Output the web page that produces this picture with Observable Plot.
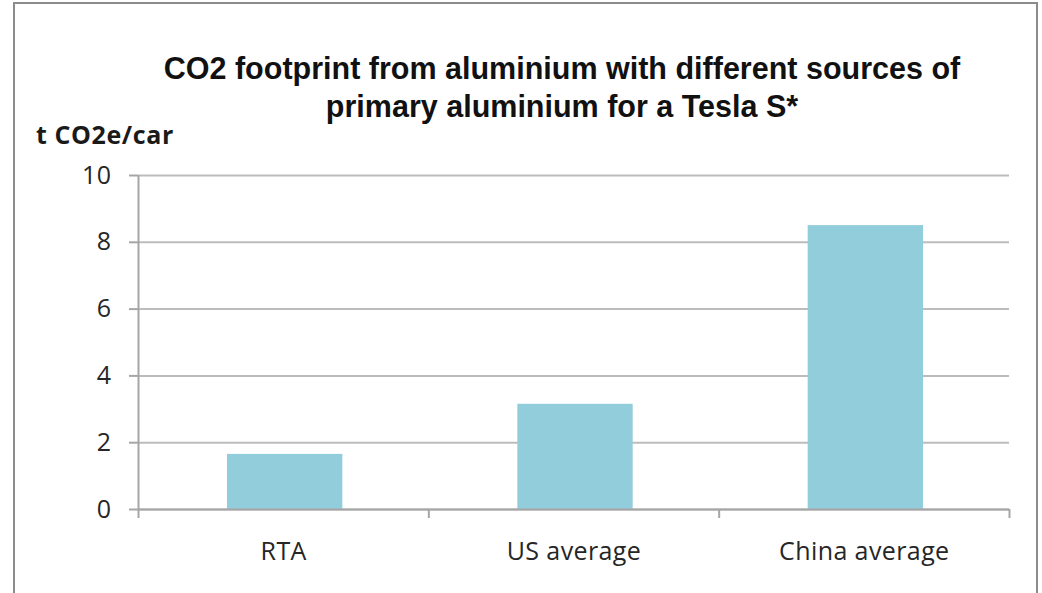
<!DOCTYPE html>
<html>
<head>
<meta charset="utf-8">
<script src="https://cdn.jsdelivr.net/npm/d3@7"></script>
<script src="https://cdn.jsdelivr.net/npm/@observablehq/plot@0.6"></script>
<style>
  html, body { margin: 0; padding: 0; background: #fff; overflow: hidden; }
  #wrap { position: relative; width: 1042px; height: 593px; }
  #frame { position: absolute; left: 13px; top: 2px; width: 1025px; height: 640px; border: 2px solid #8c8c8c; box-sizing: border-box; }
  #title { position: absolute; left: 60px; width: 1004px; top: 49px; text-align: center;
           font-family: "Liberation Sans", Arial, sans-serif; font-weight: bold; font-size: 30.5px; line-height: 38px; color: #111; }
  #ylabel { position: absolute; left: 36px; top: 117px; font-family: "Open Sans", Lato, sans-serif; font-weight: bold; font-size: 25px; letter-spacing: 0.6px; color: #1a1a1a; }
  #chart { position: absolute; left: 0; top: 0; }
  #chart svg text { letter-spacing: 0.4px; }
</style>
</head>
<body>
<div id="wrap">
  <div id="frame"></div>
  <div id="chart"></div>
  <div id="title">CO2 footprint from aluminium with different sources of<br>primary aluminium for a Tesla S*</div>
  <div id="ylabel">t CO2e/car</div>
</div>
<script>
const categories = ["RTA", "US average", "China average"];
const values = [1.65, 3.15, 8.5];
const yTicks = [0, 2, 4, 6, 8, 10];

const table = categories.map((c, i) => ({ i, category: c, value: values[i] }));
const boundaries = d3.range(categories.length + 1);
const centers = categories.map((c, i) => i + 0.5);

const plot = Plot.plot({
  width: 1042,
  height: 593,
  marginLeft: 138,
  marginRight: 33,
  marginTop: 175,
  marginBottom: 84,
  style: { fontFamily: "'Open Sans', Lato, sans-serif", fontSize: "25px", color: "#262626", background: "transparent" },
  x: { type: "linear", domain: [0, categories.length] },
  y: { domain: [0, 10] },
  marks: [
    Plot.gridY(yTicks, { stroke: "#bcbcbc", strokeOpacity: 1, strokeWidth: 2 }),
    Plot.rectY(table, { x1: "i", x2: d => d.i + 1, y: "value", fill: "#92cddc", insetLeft: 89, insetRight: 86 }),
    Plot.ruleY([0], { stroke: "#a6a6a6", strokeWidth: 2 }),
    Plot.ruleX([0], { stroke: "#a6a6a6", strokeWidth: 2 }),
    Plot.axisY(yTicks, { tickSize: 9, tickPadding: 18, stroke: "#a6a6a6", strokeWidth: 2, label: null, fill: "#262626", fontSize: 25 }),
    Plot.axisX(boundaries, { tickSize: 9, tickFormat: () => "", stroke: "#a6a6a6", strokeWidth: 2, label: null }),
    Plot.axisX(centers, { tickSize: 0, tickPadding: 33, tickFormat: d => categories[Math.floor(d)], label: null, fill: "#262626", fontSize: 25 })
  ]
});
document.getElementById("chart").appendChild(plot);
</script>
</body>
</html>
